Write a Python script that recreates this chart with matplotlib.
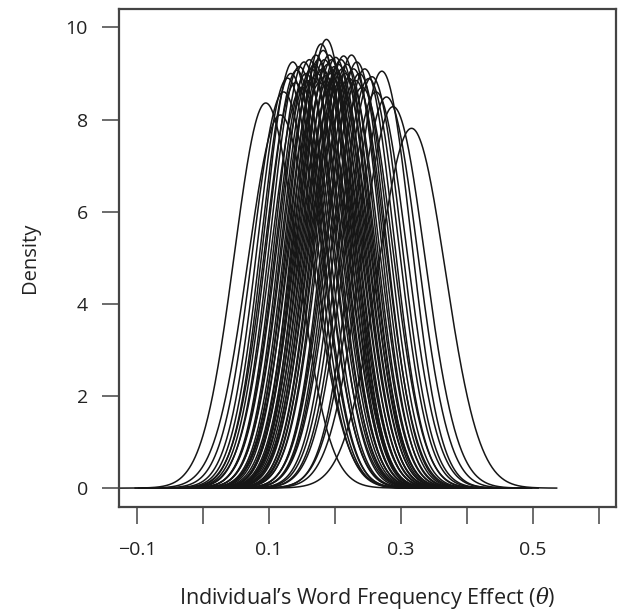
import numpy as np
import matplotlib
matplotlib.use("Agg")
import matplotlib.pyplot as plt

# Per-individual posterior summaries: centre and peak density
curve_means = [0.095, 0.117, 0.122, 0.128, 0.133, 0.136, 0.140, 0.142, 0.146, 0.150,
               0.153, 0.156, 0.158, 0.161, 0.164, 0.166, 0.169, 0.171, 0.173, 0.175,
               0.177, 0.179, 0.181, 0.182, 0.184, 0.186, 0.187, 0.189, 0.191, 0.193,
               0.195, 0.197, 0.199, 0.201, 0.203, 0.205, 0.207, 0.209, 0.211, 0.213,
               0.215, 0.218, 0.221, 0.225, 0.228, 0.231, 0.233, 0.237, 0.241, 0.245,
               0.251, 0.256, 0.262, 0.271, 0.278, 0.288, 0.316]
curve_peaks = [8.36, 8.10, 8.60, 8.90, 9.00, 9.25, 8.80, 9.07, 9.15, 8.70,
               9.25, 9.00, 8.85, 9.30, 9.10, 8.90, 9.20, 9.40, 9.00, 9.30,
               8.80, 9.64, 9.10, 9.50, 9.30, 8.95, 9.74, 9.20, 9.40, 9.00,
               9.30, 8.90, 9.15, 9.35, 9.00, 9.20, 8.80, 9.30, 9.10, 9.38,
               9.00, 9.20, 8.90, 9.40, 9.10, 8.85, 9.25, 9.00, 8.70, 9.10,
               8.89, 8.93, 8.60, 9.05, 8.49, 8.28, 7.81]

x_ticks = [-0.1, 0.0, 0.1, 0.2, 0.3, 0.4, 0.5, 0.6]
x_tick_labels = ["\u22120.1", "", "0.1", "", "0.3", "", "0.5", ""]
y_ticks = [0, 2, 4, 6, 8, 10]
x_label = "Individual\u2019s Word Frequency Effect ($\\theta$)"
y_label = "Density"

plt.rcParams['font.family'] = ['Open Sans', 'DejaVu Sans']
plt.rcParams['mathtext.fontset'] = 'custom'
plt.rcParams['mathtext.it'] = 'DejaVu Serif:italic'

fig = plt.figure(figsize=(6.22, 6.13), dpi=100)
ax = fig.add_axes([118.7 / 622, 1 - 507 / 613, (616 - 118.7) / 622, (507 - 9) / 613])

for m, p in zip(curve_means, curve_peaks):
    s = 1.0 / (p * np.sqrt(2 * np.pi))
    xs = np.linspace(m - 0.22, m + 0.22, 600)
    ys = p * np.exp(-0.5 * ((xs - m) / s) ** 2)
    ax.plot(xs, ys, color='#161616', lw=1.1)

ax.set_xlim(-0.128, 0.626)
ax.set_ylim(-0.41, 10.40)
ax.set_xticks(x_ticks)
ax.set_xticklabels(x_tick_labels)
ax.set_yticks(y_ticks)
ax.set_yticklabels([str(v) for v in y_ticks])

for sp in ax.spines.values():
    sp.set_color('#444444')
    sp.set_linewidth(1.6)
ax.tick_params(direction='out', length=12.2, width=1.1, color='#444444',
               labelsize=14, labelcolor='#222222')
ax.tick_params(axis='x', pad=12)
ax.tick_params(axis='y', pad=10)

ax.set_xlabel(x_label, fontsize=15.5, color='#222222')
ax.set_ylabel(y_label, fontsize=14.5, color='#222222')
ax.xaxis.set_label_coords(0.5, -(585 - 507) / 498)
ax.yaxis.set_label_coords(-(118.7 - 40) / 497.3, 0.5)

fig.savefig("out.png", dpi=100)
